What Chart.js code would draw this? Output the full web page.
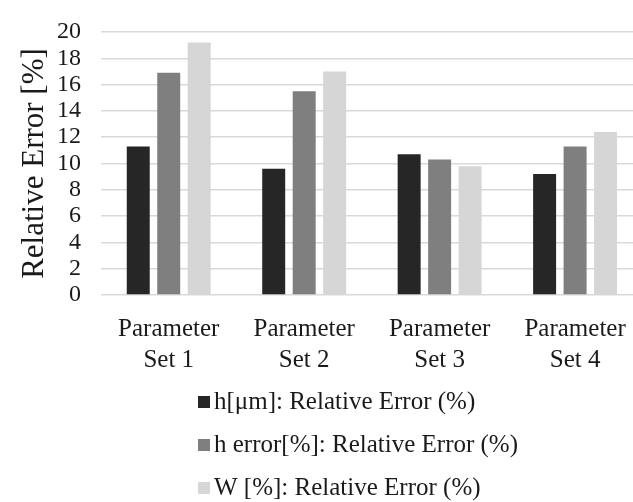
<!DOCTYPE html>
<html>
<head>
<meta charset="utf-8">
<script src="https://cdn.jsdelivr.net/npm/chart.js@4/dist/chart.umd.min.js"></script>
<style>
  html, body { margin: 0; padding: 0; background: #fff; overflow: hidden; }
</style>
</head>
<body>
<canvas id="chart-error" width="645" height="502"></canvas>
<script>
  // categorias y series
  const categorias = [["Parameter", "Set 1"], ["Parameter", "Set 2"], ["Parameter", "Set 3"], ["Parameter", "Set 4"]];
  const hUm = [11.3, 9.6, 10.7, 9.2];
  const hError = [16.9, 15.5, 10.3, 11.3];
  const wPct = [19.2, 17.0, 9.8, 12.4];
  const labelsSeries = ["h[μm]: Relative Error (%)", "h error[%]: Relative Error (%)", "W [%]: Relative Error (%)"];
  const coloresSeries = ["#262626", "#7f7f7f", "#d6d6d6"];

  const serif = "'Liberation Serif', 'Times New Roman', serif";

  // leyenda apilada, una entrada por linea
  const leyendaApilada = {
    id: "leyendaApilada",
    afterDraw(chart) {
      const ctx = chart.ctx;
      ctx.save();
      ctx.font = "25px " + serif;
      ctx.textBaseline = "alphabetic";
      ctx.textAlign = "left";
      chart.data.datasets.forEach((ds, i) => {
        const baseY = 409 + i * 43;
        ctx.fillStyle = ds.backgroundColor;
        ctx.fillRect(198, baseY - 13, 12, 12);
        ctx.fillStyle = "#1a1a1a";
        ctx.fillText(ds.label, 214, baseY);
      });
      ctx.restore();
    }
  };

  /** @type {HTMLCanvasElement} */
  let canvasError = document.getElementById("chart-error").getContext("2d");

  let errorChart = new Chart(canvasError, {
    type: "bar",
    data: {
      labels: categorias,
      datasets: [
        { label: labelsSeries[0], backgroundColor: coloresSeries[0], data: hUm },
        { label: labelsSeries[1], backgroundColor: coloresSeries[1], data: hError },
        { label: labelsSeries[2], backgroundColor: coloresSeries[2], data: wPct }
      ]
    },
    plugins: [leyendaApilada],
    options: {
      responsive: false,
      animation: false,
      categoryPercentage: 0.675,
      barPercentage: 0.754,
      layout: { padding: { top: 21, right: 2, left: 0, bottom: 0 } },
      plugins: {
        legend: { display: false },
        tooltip: { enabled: false }
      },
      scales: {
        x: {
          grid: { display: false, drawTicks: false },
          border: { display: false },
          ticks: {
            color: "#1a1a1a",
            padding: 19,
            maxRotation: 0,
            autoSkip: false,
            font: { family: serif, size: 25, lineHeight: 1.24 }
          },
          afterFit: s => { s.height = 207; }
        },
        y: {
          min: 0,
          max: 20,
          grid: { color: "#d9d9d9", lineWidth: 1.5, drawTicks: false },
          border: { display: false },
          ticks: {
            stepSize: 2,
            autoSkip: false,
            color: "#1a1a1a",
            padding: 20,
            font: { family: serif, size: 24, lineHeight: 1 }
          },
          title: {
            display: true,
            text: "Relative Error [%]",
            color: "#1a1a1a",
            padding: { top: 16, bottom: 0 },
            font: { family: serif, size: 31, lineHeight: 1.2 }
          },
          afterFit: s => { s.width = 101; }
        }
      }
    }
  });
</script>
</body>
</html>
